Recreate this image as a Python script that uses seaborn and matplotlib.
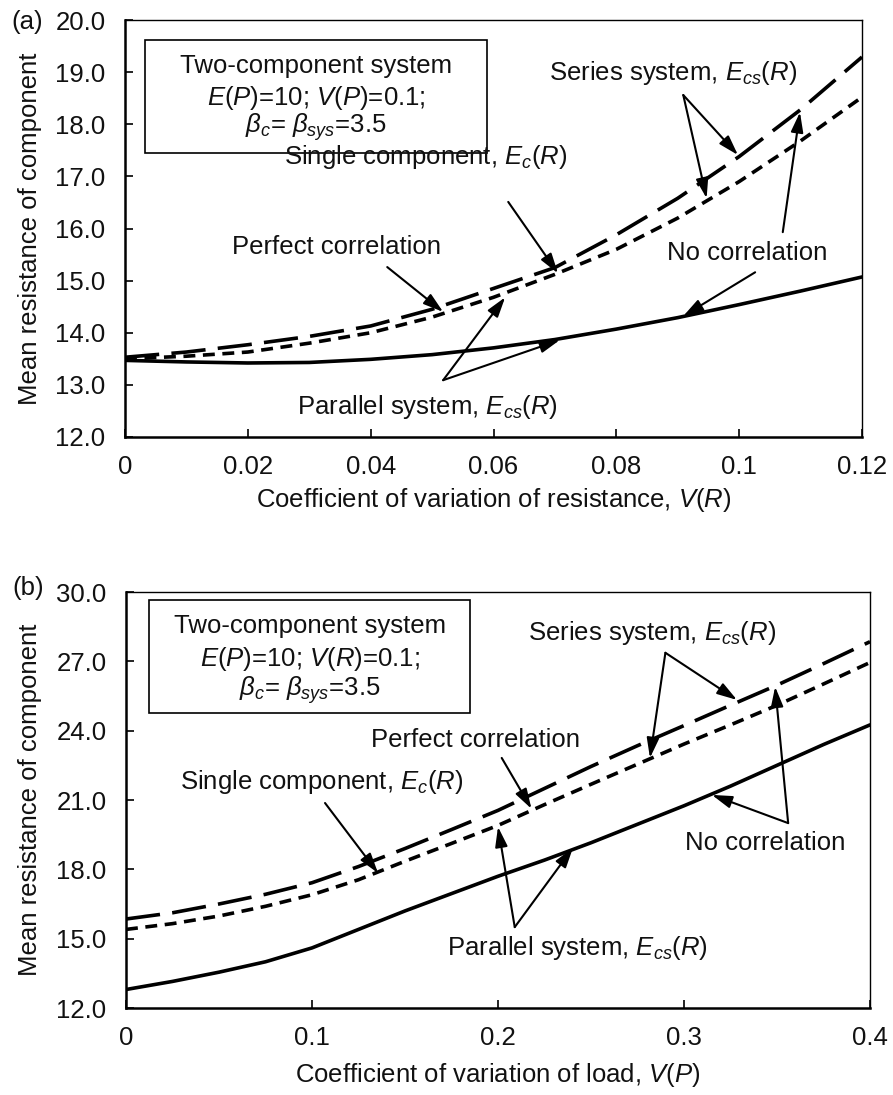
import numpy as np
import pandas as pd
import matplotlib
matplotlib.use("Agg")
import matplotlib.pyplot as plt
from matplotlib.patches import Rectangle
import seaborn as sns

# ---------------- data ----------------
# Panel (a): mean resistance vs V(R)
vr = [0.0, 0.01, 0.02, 0.03, 0.04, 0.05, 0.06, 0.07, 0.08, 0.09, 0.10, 0.11, 0.12]
a_long = [13.53, 13.63, 13.77, 13.93, 14.13, 14.45, 14.85, 15.25, 15.88, 16.58, 17.38, 18.28, 19.29]
a_short = [13.50, 13.55, 13.63, 13.80, 14.00, 14.30, 14.68, 15.12, 15.60, 16.20, 16.90, 17.68, 18.52]
a_solid = [13.47, 13.44, 13.42, 13.43, 13.49, 13.58, 13.71, 13.87, 14.07, 14.29, 14.54, 14.80, 15.07]

# Panel (b): mean resistance vs V(P)
vp = [0.0, 0.025, 0.05, 0.075, 0.10, 0.125, 0.15, 0.175, 0.20, 0.225, 0.25, 0.275, 0.30, 0.325, 0.35, 0.375, 0.40]
b_long = [15.85, 16.12, 16.50, 16.92, 17.42, 18.12, 18.90, 19.72, 20.55, 21.50, 22.45, 23.35, 24.22, 25.10, 25.97, 26.90, 27.85]
b_short = [15.40, 15.65, 15.98, 16.40, 16.90, 17.55, 18.35, 19.12, 19.90, 20.80, 21.68, 22.55, 23.42, 24.25, 25.10, 26.02, 26.95]
b_solid = [12.80, 13.15, 13.55, 14.00, 14.60, 15.40, 16.20, 16.95, 17.70, 18.40, 19.15, 19.95, 20.75, 21.60, 22.50, 23.40, 24.25]

a_yticks = [12.0, 13.0, 14.0, 15.0, 16.0, 17.0, 18.0, 19.0, 20.0]
a_xticks = [0, 0.02, 0.04, 0.06, 0.08, 0.10, 0.12]
a_xticklabels = ["0", "0.02", "0.04", "0.06", "0.08", "0.1", "0.12"]
b_yticks = [12.0, 15.0, 18.0, 21.0, 24.0, 27.0, 30.0]
b_xticks = [0, 0.1, 0.2, 0.3, 0.4]
b_xticklabels = ["0", "0.1", "0.2", "0.3", "0.4"]

# ---------------- style ----------------
sns.set_theme(style="ticks")
plt.rcParams["font.family"] = ["Liberation Sans", "DejaVu Sans"]
plt.rcParams["mathtext.fontset"] = "custom"
plt.rcParams["mathtext.rm"] = "Liberation Sans"
plt.rcParams["mathtext.it"] = "Liberation Sans:italic"
plt.rcParams["mathtext.fallback"] = "stix"

FS = 18.5
TXT = "#111111"
W, H = 893, 1095
fig = plt.figure(figsize=(W / 100, H / 100), dpi=100)

def px_axes(l, r, t, b):
    return fig.add_axes([l / W, 1 - b / H, (r - l) / W, (b - t) / H])

axA = px_axes(125, 862, 20, 437)
axB = px_axes(126, 870, 592, 1008)

LW = 2.6
LONG = (0, (9.5, 3.4))
SHORT = (0, (3.3, 2.1))

dfA = pd.DataFrame({"x": vr, "long": a_long, "short": a_short, "solid": a_solid})
dfB = pd.DataFrame({"x": vp, "long": b_long, "short": b_short, "solid": b_solid})

for ax, df in ((axA, dfA), (axB, dfB)):
    sns.lineplot(data=df, x="x", y="long", ax=ax, color="black", lw=LW, linestyle=LONG)
    sns.lineplot(data=df, x="x", y="short", ax=ax, color="black", lw=LW, linestyle=SHORT)
    sns.lineplot(data=df, x="x", y="solid", ax=ax, color="black", lw=LW)

def style_axes(ax, xlim, ylim, xticks, xticklabels, yticks, xlabel, xlab_y):
    ax.set_xlim(*xlim)
    ax.set_ylim(*ylim)
    ax.set_xticks(xticks)
    ax.set_xticklabels(xticklabels, fontsize=FS, color=TXT)
    ax.set_yticks(yticks)
    ax.set_yticklabels(["%.1f" % v for v in yticks], fontsize=FS, color=TXT)
    ax.tick_params(direction="in", length=6, width=1.2, color="black", top=False, right=False)
    ax.tick_params(axis="y", pad=14)
    ax.tick_params(axis="x", pad=13)
    for s in ("left", "bottom"):
        ax.spines[s].set_linewidth(1.8)
    for s in ("top", "right"):
        ax.spines[s].set_visible(True)
        ax.spines[s].set_linewidth(1.0)
    for s in ax.spines.values():
        s.set_color("black")
    ax.set_xlabel(xlabel, fontsize=FS, color=TXT)
    ax.set_ylabel("Mean resistance of component", fontsize=FS, color=TXT)
    ax.xaxis.set_label_coords(0.5, xlab_y)
    ax.yaxis.set_label_coords(-0.113, 0.5)
    ax.grid(False)

style_axes(axA, (0, 0.12), (12, 20), a_xticks, a_xticklabels, a_yticks,
           "Coefficient of variation of resistance, $V$($R$)", -0.117)
style_axes(axB, (0, 0.4), (12, 30), b_xticks, b_xticklabels, b_yticks,
           "Coefficient of variation of load, $V$($P$)", -0.128)

ARW = dict(arrowstyle="-|>,head_length=0.55,head_width=0.17", lw=1.5, color="black",
           mutation_scale=22, shrinkA=0, shrinkB=0)

def arrow(ax, tail, tip):
    ax.annotate("", xy=tip, xytext=tail, arrowprops=ARW)

def label(ax, x, y, s):
    ax.text(x, y, s, ha="center", va="center", fontsize=FS, color=TXT)

# ---- info boxes ----
def info_box(ax, x0, x1, y0, y1, xc, ys, lines):
    ax.add_patch(Rectangle((x0, y0), x1 - x0, y1 - y0, transform=ax.transAxes,
                           fill=True, fc="white", ec="black", lw=1.2, zorder=3))
    for y, s in zip(ys, lines):
        ax.text(xc, y, s, transform=ax.transAxes, ha="center", va="baseline",
                fontsize=FS, color=TXT, zorder=4)

info_box(axA, 0.027, 0.491, 0.681, 0.952, 0.259, [0.872, 0.797, 0.730],
         ["Two-component system", "$E$($P$)=10; $V$($P$)=0.1;",
          r"$\beta_c$= $\beta_{sys}$=3.5"])
info_box(axB, 0.031, 0.462, 0.709, 0.981, 0.247, [0.902, 0.822, 0.750],
         ["Two-component system", "$E$($P$)=10; $V$($R$)=0.1;",
          r"$\beta_c$= $\beta_{sys}$=3.5"])

# ---- annotations panel (a) ----
label(axA, 0.0892, 18.98, "Series system, $E_{cs}$($R$)")
arrow(axA, (0.0909, 18.56), (0.0998, 17.41))
arrow(axA, (0.0909, 18.56), (0.0947, 16.58))
label(axA, 0.1013, 15.53, "No correlation")
arrow(axA, (0.1071, 15.93), (0.1099, 18.23))
arrow(axA, (0.1026, 15.16), (0.0909, 14.32))
label(axA, 0.049, 17.37, "Single component, $E_c$($R$)")
arrow(axA, (0.0624, 16.51), (0.0705, 15.14))
label(axA, 0.0344, 15.64, "Perfect correlation")
arrow(axA, (0.0427, 15.26), (0.0518, 14.40))
label(axA, 0.0492, 12.57, "Parallel system, $E_{cs}$($R$)")
arrow(axA, (0.0518, 13.09), (0.0619, 14.68))
arrow(axA, (0.0518, 13.09), (0.0708, 13.86))

# ---- annotations panel (b) ----
label(axB, 0.283, 28.23, "Series system, $E_{cs}$($R$)")
arrow(axB, (0.290, 27.37), (0.3285, 25.33))
arrow(axB, (0.290, 27.37), (0.2817, 22.82))
label(axB, 0.1877, 23.6, "Perfect correlation")
arrow(axB, (0.202, 22.82), (0.218, 20.62))
label(axB, 0.1054, 21.78, "Single component, $E_c$($R$)")
arrow(axB, (0.107, 20.87), (0.1355, 17.84))
label(axB, 0.3435, 19.14, "No correlation")
arrow(axB, (0.356, 20.0), (0.349, 25.9))
arrow(axB, (0.356, 20.0), (0.315, 21.22))
label(axB, 0.2425, 14.6, "Parallel system, $E_{cs}$($R$)")
arrow(axB, (0.209, 15.5), (0.200, 19.84))
arrow(axB, (0.209, 15.5), (0.2403, 18.93))

# ---- panel letters ----
fig.text(27 / W, 1 - 22 / H, "(a)", ha="center", va="center", fontsize=FS, color=TXT)
fig.text(28 / W, 1 - 588 / H, "(b)", ha="center", va="center", fontsize=FS, color=TXT)

fig.savefig("out.png", dpi=100, facecolor="white")
